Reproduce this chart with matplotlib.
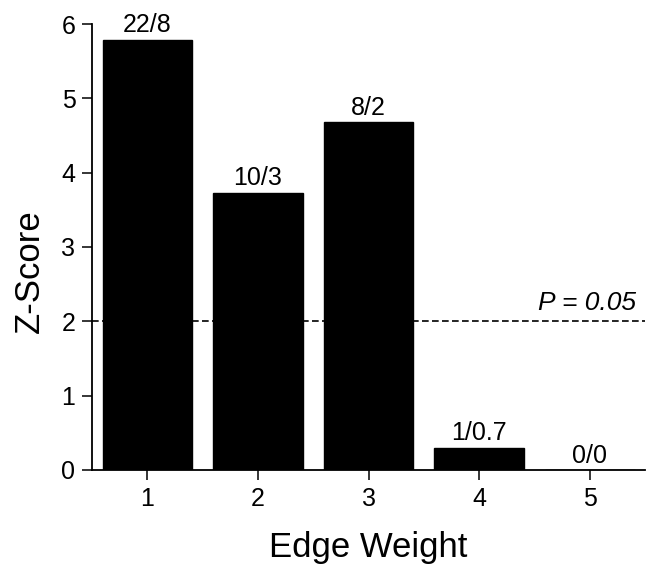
import matplotlib
matplotlib.use("Agg")
import matplotlib.pyplot as plt

plt.rcParams['font.family'] = ['Liberation Sans', 'DejaVu Sans']

edge_weights = [1, 2, 3, 4, 5]
z_scores = [5.79, 3.73, 4.68, 0.3, 0.0]
bar_labels = ["22/8", "10/3", "8/2", "1/0.7", "0/0"]
threshold = 2.0
threshold_label = "P = 0.05"

fig = plt.figure(figsize=(6.53, 5.73), dpi=100)
ax = fig.add_axes([0.141, 0.180, 0.847, 0.778])

ax.bar(edge_weights, z_scores, width=0.81, color="black", edgecolor="black", zorder=2)
for x, y, lab in zip(edge_weights, z_scores, bar_labels):
    ax.text(x, y + 0.03, lab, ha="center", va="bottom", fontsize=18, clip_on=False)

ax.axhline(threshold, color="black", lw=1.2, ls=(0, (4, 2)), zorder=3)
ax.text(5.42, threshold + 0.08, threshold_label, ha="right", va="bottom",
        fontsize=19, style="italic")

ax.set_xlim(0.5, 5.5)
ax.set_ylim(0, 6)
ax.set_xticks(edge_weights)
ax.set_yticks(range(0, 7))
ax.tick_params(axis="both", labelsize=18, length=7, width=1.1, direction="out", pad=5)

for side in ("top", "right"):
    ax.spines[side].set_visible(False)
for side in ("left", "bottom"):
    ax.spines[side].set_linewidth(1.3)

ax.set_xlabel("Edge Weight", fontsize=25, labelpad=15)
ax.set_ylabel("Z-Score", fontsize=25)
ax.yaxis.set_label_coords(-0.083, 0.445)

fig.savefig("out.png", dpi=100)
